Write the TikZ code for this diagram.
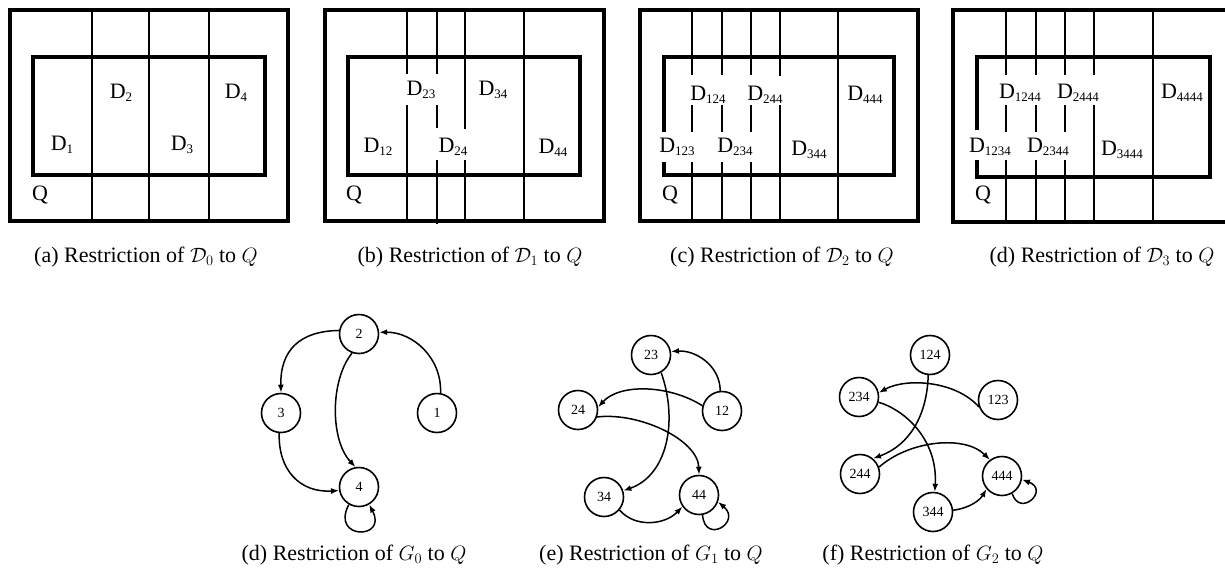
\documentclass[tikz,border=0pt]{standalone}
\usepackage{fontspec}
\setmainfont{Liberation Serif}
\usetikzlibrary{arrows.meta}
\DeclareMathSizes{22}{20.74}{14.4}{12}

% D with a lowered, smaller index
\newcommand{\dd}[1]{D\raisebox{-2.6pt}{\fontsize{13}{13}\selectfont #1}}

\tikzset{
  frame/.style={line width=3.3pt, line join=miter},
  cut/.style={line width=1.3pt},
  lab/.style={font=\fontsize{22}{24}\selectfont, inner sep=0pt},
  captext/.style={font=\fontsize{22}{24}\selectfont, inner sep=0pt},
  vx/.style={circle, draw, line width=1.6pt, minimum size=39pt, inner sep=0pt,
             font=\fontsize{14}{16}\selectfont},
  arc/.style={line width=1.5pt, -{Latex[length=8pt,width=6pt]}},
}

\begin{document}
\begin{tikzpicture}[x=1pt, y=-1pt]
\useasboundingbox (0,0) rectangle (1225,570);

% ---------- (a) restriction of D_0 ----------
\draw[frame] (10,10) rectangle (288,221);
\draw[frame] (33,57) rectangle (265,175);
\foreach \x in {92,149,209} \draw[cut] (\x,10) -- (\x,221);
\node[lab] (a1) at (62,145) {\dd{1}};
\node[lab] (a2) at (121,93) {\dd{2}};
\node[lab] (a3) at (182,145) {\dd{3}};
\node[lab] (a4) at (236,93) {\dd{4}};
\node[lab] (aq) at (40,195) {Q};
\node[captext] (capa) at (146,257) {(a) Restriction of $\mathcal{D}_0$ to $Q$};

% ---------- (b) restriction of D_1 ----------
\draw[frame] (325,10) rectangle (604,221);
\draw[frame] (348,57) rectangle (580,175);
\draw[cut] (407,10) -- (407,74) (407,105) -- (407,221);
\draw[cut] (437,10) -- (437,74) (437,105) -- (437,128) (437,160) -- (437,224);
\draw[cut] (465,10) -- (465,129) (465,160) -- (465,221);
\draw[cut] (524,10) -- (524,221);
\node[lab] (b23) at (421,90) {\dd{23}};
\node[lab] (b34) at (493,90) {\dd{34}};
\node[lab] (b12) at (378,147) {\dd{12}};
\node[lab] (b24) at (453,147) {\dd{24}};
\node[lab] (b44) at (553,148) {\dd{44}};
\node[lab] (bq) at (354,195) {Q};
\node[captext] (capb) at (470,257) {(b) Restriction of $\mathcal{D}_1$ to $Q$};

% ---------- (c) restriction of D_2 ----------
\draw[frame] (640,10) rectangle (918,221);
\draw[frame] (664,132) -- (664,57) -- (894,57) -- (894,175) -- (664,175) -- (664,162);
\foreach \x in {692,722,751}
  \draw[cut] (\x,10) -- (\x,75) (\x,105) -- (\x,132) (\x,162) -- (\x,221);
\draw[cut] (780,10) -- (780,76) (780,105) -- (780,221);
\draw[cut] (838,10) -- (838,221);
\node[lab] (c124) at (708,95) {\dd{124}};
\node[lab] (c244) at (765,95) {\dd{244}};
\node[lab] (c444) at (865,95) {\dd{444}};
\node[lab] (c123) at (677,147) {\dd{123}};
\node[lab] (c234) at (735,147) {\dd{234}};
\node[lab] (c344) at (809,150) {\dd{344}};
\node[lab] (cq) at (670,195) {Q};
\node[captext] (capc) at (782,257) {(c) Restriction of $\mathcal{D}_2$ to $Q$};

% ---------- (d) restriction of D_3 ----------
\draw[frame] (953,10) rectangle (1236,222);
\draw[frame] (977,130) -- (977,57) -- (1210,57) -- (1210,177) -- (977,177) -- (977,160);
\foreach \x in {1006,1036,1065}
  \draw[cut] (\x,10) -- (\x,75) (\x,105) -- (\x,132) (\x,160) -- (\x,222);
\draw[cut] (1094,10) -- (1094,75) (1094,105) -- (1094,222);
\draw[cut] (1153,10) -- (1153,222);
\node[lab] (d1244) at (1020,93) {\dd{1244}};
\node[lab] (d2444) at (1078,93) {\dd{2444}};
\node[lab] (d4444) at (1182,93) {\dd{4444}};
\node[lab] (d1234) at (990,147) {\dd{1234}};
\node[lab] (d2344) at (1048,147) {\dd{2344}};
\node[lab] (d3444) at (1122,150) {\dd{3444}};
\node[lab] (dq) at (983,195) {Q};
\node[captext] (capd) at (1102,257) {(d) Restriction of $\mathcal{D}_3$ to $Q$};

% ---------- graph G_0 ----------
\node[vx] (g2) at (359,334) {2};
\node[vx] (g3) at (281,413) {3};
\node[vx] (g1) at (437,413) {1};
\node[vx] (g4) at (359,487) {4};
\draw[arc] (g2.170) .. controls (300,331) and (280,350) .. (g3.north);
\draw[arc] (g2.250) .. controls (330,380) and (330,440) .. (g4.100);
\draw[arc] (g3.265) .. controls (278,470) and (300,493) .. (g4.190);
\draw[arc] (g1.80) .. controls (442,358) and (413,332) .. (g2.5);
\draw[arc] (g4.240) .. controls (330,540) and (388,540) .. (g4.300);
\node[captext] (cape) at (354,555) {(d) Restriction of $G_0$ to $Q$};

% ---------- graph G_1 ----------
\node[vx] (h23) at (651,355) {23};
\node[vx] (h24) at (578,410) {24};
\node[vx] (h12) at (722,411) {12};
\node[vx] (h34) at (604,497) {34};
\node[vx] (h44) at (699,495) {44};
\draw[arc] (h12.95) .. controls (720,365) and (695,350) .. (h23.10);
\draw[arc] (h12.165) .. controls (670,385) and (620,383) .. (h24.8);
\draw[arc] (h23.300) .. controls (678,420) and (668,475) .. (h34.18);
\draw[arc] (h24.-20) .. controls (640,412) and (698,440) .. (h44.north);
\draw[arc] (h34.-40) .. controls (635,528) and (665,525) .. (h44.215);
\draw[arc] (h44.280) .. controls (705,545) and (742,522) .. (h44.-20);
\node[captext] (capf) at (651,555) {(e) Restriction of $G_1$ to $Q$};

% ---------- graph G_2 ----------
\node[vx] (k124) at (930,355) {124};
\node[vx] (k234) at (859,397) {234};
\node[vx] (k123) at (998,400) {123};
\node[vx] (k244) at (860,474) {244};
\node[vx] (k444) at (1002,476) {444};
\node[vx] (k344) at (933,512) {344};
\draw[arc] (k123.200) .. controls (955,380) and (905,378) .. (k234.12);
\draw[arc] (k124.265) .. controls (927,415) and (910,445) .. (k244.50);
\draw[arc] (k234.-15) .. controls (905,410) and (938,440) .. (k344.85);
\draw[arc] (k244.20) .. controls (910,440) and (965,435) .. (k444.127);
\draw[arc] (k344.5) .. controls (970,508) and (980,500) .. (k444.220);
\draw[arc] (k444.300) .. controls (1020,518) and (1050,490) .. (k444.-10);
\node[captext] (capg) at (933,555) {(f) Restriction of $G_2$ to $Q$};
\end{tikzpicture}
\end{document}
